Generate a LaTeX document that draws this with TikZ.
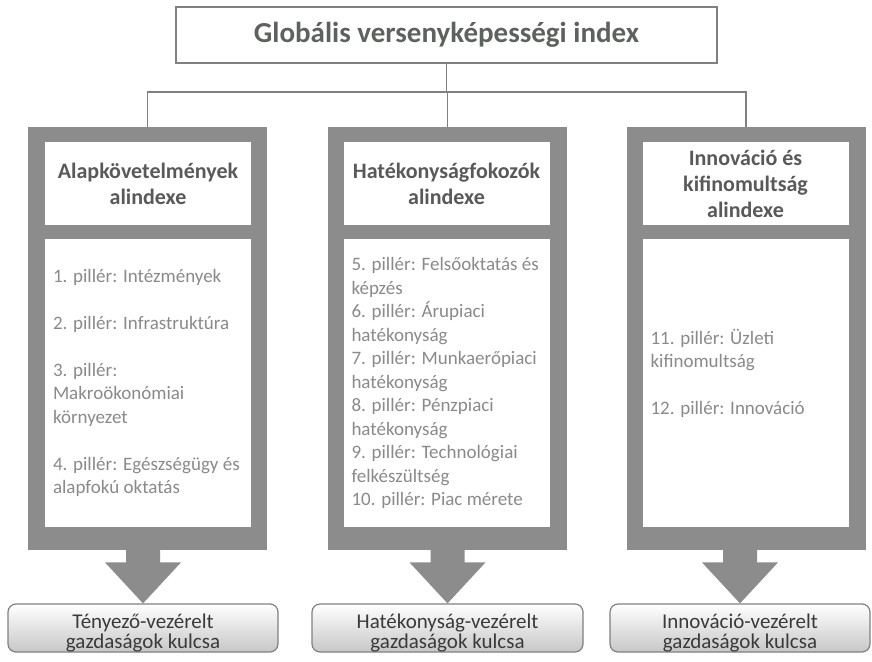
\documentclass[tikz,border=0pt]{standalone}
\usepackage{fontspec}
\setmainfont{Carlito}
\usetikzlibrary{calc}
\definecolor{framegray}{HTML}{8C8C8C}
\definecolor{linegray}{HTML}{808080}
\definecolor{headtext}{HTML}{595959}
\definecolor{itemtext}{HTML}{8A8A8A}
\definecolor{keytext}{HTML}{3A3A3A}
\definecolor{titletext}{HTML}{5E625E}
\begin{document}
\begin{tikzpicture}[x=1pt, y=-1pt,
  link/.style={draw=linegray, line width=1.5pt},
  frame/.style={fill=framegray, minimum width=239pt, minimum height=423pt, inner sep=0pt},
  head/.style={fill=white, text=headtext, font=\fontsize{22}{26}\selectfont\bfseries, align=flush center, minimum width=206pt, minimum height=83pt, inner sep=0pt, text width=204pt},
  items/.style={fill=white, text=itemtext, font=\fontsize{19}{23.5}\selectfont, align=flush left, minimum width=206pt, minimum height=288pt, inner sep=0pt, text width=190pt},
  key/.style={draw=linegray, line width=1.2pt, rounded corners=8pt, top color=white, middle color=white, bottom color=black!22, minimum height=48pt, text height=40pt, text depth=0pt, text=keytext, font=\fontsize{21}{20}\selectfont, align=flush center, inner sep=0pt}]
  \useasboundingbox (0,0) rectangle (872,661);
  \node[draw=linegray, line width=1.5pt, minimum width=541pt, minimum height=56pt, text=titletext, font=\fontsize{29}{34}\selectfont\bfseries] (title) at (446.5,35) {Globális versenyképességi index};
  \coordinate (bus) at (446.5,92);
  \node[frame] (frameA) at (147.5,338.5) {};
  \node[frame] (frameB) at (447.5,338.5) {};
  \node[frame] (frameC) at (746,338.5) {};
  \draw[link] (title.south) -- (bus);
  \draw[link] (bus) -| (frameA.north);
  \draw[link] (bus) -| (frameB.north);
  \draw[link] (bus) -| (frameC.north);
  \node[head] (headA) at (148,183.5) {Alapkövetelmények\\alindexe};
  \node[head] (headB) at (446.5,183.5) {Hatékonyságfokozók\\alindexe};
  \node[head] (headC) at (745.5,183.5) {Innováció és\\kifinomultság\\alindexe};
  \node[items] (itemsA) at (148,383) {1. pillér: Intézmények\\[23.5pt]2. pillér: Infrastruktúra\\[23.5pt]3. pillér:\\Makroökonómiai\\környezet\\[23.5pt]4. pillér: Egészségügy és\\alapfokú oktatás};
  \node[items] (itemsB) at (446.5,383) {5. pillér: Felsőoktatás és\\képzés\\6. pillér: Árupiaci\\hatékonyság\\7. pillér: Munkaerőpiaci\\hatékonyság\\8. pillér: Pénzpiaci\\hatékonyság\\9. pillér: Technológiai\\felkészültség\\10. pillér: Piac mérete};
  \node[items, text depth=93pt] (itemsC) at (745.5,383) {11. pillér: Üzleti\\kifinomultság\\[23.5pt]12. pillér: Innováció};
  \node[key, minimum width=270pt] (keyA) at (143,628) {Tényező-vezérelt\\gazdaságok kulcsa};
  \node[key, minimum width=271pt] (keyB) at (447.5,628) {Hatékonyság-vezérelt\\gazdaságok kulcsa};
  \node[key, minimum width=260pt] (keyC) at (740,628) {Innováció-vezérelt\\gazdaságok kulcsa};
  \fill[framegray] ($(keyA.north |- itemsA.south)+(-17,0)$) -- ($(keyA.north)+(-17,-41)$) -- ($(keyA.north)+(-38,-41)$) -- (keyA.north) -- ($(keyA.north)+(38,-41)$) -- ($(keyA.north)+(17,-41)$) -- ($(keyA.north |- itemsA.south)+(17,0)$) -- cycle;
  \fill[framegray] ($(keyB.north |- itemsB.south)+(-17,0)$) -- ($(keyB.north)+(-17,-41)$) -- ($(keyB.north)+(-38,-41)$) -- (keyB.north) -- ($(keyB.north)+(38,-41)$) -- ($(keyB.north)+(17,-41)$) -- ($(keyB.north |- itemsB.south)+(17,0)$) -- cycle;
  \fill[framegray] ($(keyC.north |- itemsC.south)+(-17,0)$) -- ($(keyC.north)+(-17,-41)$) -- ($(keyC.north)+(-38,-41)$) -- (keyC.north) -- ($(keyC.north)+(38,-41)$) -- ($(keyC.north)+(17,-41)$) -- ($(keyC.north |- itemsC.south)+(17,0)$) -- cycle;
\end{tikzpicture}
\end{document}
